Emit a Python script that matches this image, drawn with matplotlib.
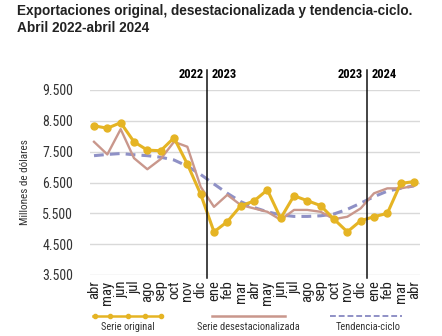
import matplotlib
matplotlib.use('Agg')
import matplotlib.pyplot as plt
from matplotlib.lines import Line2D

plt.rcParams['font.family'] = ['Roboto Condensed', 'DejaVu Sans']

# Monthly exports, April 2022 - April 2024 (millions of dollars)
meses = ['abr', 'may', 'jun', 'jul', 'ago', 'sep', 'oct', 'nov', 'dic',
         'ene', 'feb', 'mar', 'abr', 'may', 'jun', 'jul', 'ago', 'sep', 'oct', 'nov', 'dic',
         'ene', 'feb', 'mar', 'abr']
original = [8340, 8260, 8440, 7820, 7550, 7530, 7950, 7100, 6120,
            4900, 5230, 5740, 5900, 6260, 5340, 6070, 5910, 5750, 5310, 4900, 5260,
            5390, 5500, 6470, 6530]
desestacionalizada = [7820, 7410, 8230, 7290, 6930, 7260, 7820, 7660, 6360,
                      5710, 6100, 5770, 5660, 5550, 5290, 5610, 5610, 5550, 5310, 5390, 5660,
                      6150, 6310, 6310, 6390]
tendencia = [7370, 7410, 7440, 7400, 7370, 7320, 7230, 7030, 6760,
             6450, 6150, 5880, 5690, 5550, 5450, 5400, 5400, 5420, 5480, 5630, 5830,
             6040, 6220, 6310, 6390]
yticks = [3500, 4500, 5500, 6500, 7500, 8500, 9500]
cortes = [(8.5, '2022', '2023'), (20.5, '2023', '2024')]

c_orig = '#E5B424'
c_des = '#C9978C'
c_ten = '#8F91C6'

W, H = 442, 336
fig = plt.figure(figsize=(W / 100, H / 100), dpi=100)
ax = fig.add_axes([90 / W, 1 - 275 / H, 330 / W, 185 / H])

x = list(range(len(meses)))
ax.plot(x, tendencia, color=c_ten, lw=2.2, dashes=(3.2, 2.0), zorder=2)
ax.plot(x, desestacionalizada, color=c_des, lw=1.7, zorder=3)
ax.plot(x, original, color=c_orig, lw=2.2, marker='o', ms=5, zorder=4)

ax.set_xlim(-0.3, 24.45)
ax.set_ylim(3500, 9500)
ax.set_yticks(yticks)
ax.set_yticklabels([f'{v:,}'.replace(',', '.') for v in yticks], fontsize=10, color='#333333')
ax.set_xticks(x)
ax.set_xticklabels(meses, rotation=90, fontsize=10.5, color='#222222')
ax.tick_params(length=0, pad=12)
ax.tick_params(axis='x', pad=4)
ax.grid(axis='y', color='#d9d9d9', lw=1)
ax.set_axisbelow(True)
for s in ax.spines.values():
    s.set_visible(False)
ax.set_ylabel('Millones de dólares', fontsize=8, color='#333333', labelpad=9)

# year change markers
for xc, a, b in cortes:
    ax.plot([xc, xc], [3400, 10150], color='#111111', lw=1.1, clip_on=False, zorder=5)
    ax.text(xc - 0.3, 10000, a, ha='right', va='center', fontsize=9, fontweight='bold')
    ax.text(xc + 0.3, 10000, b, ha='left', va='center', fontsize=9, fontweight='bold')

fig.text(17 / W, 1 - 11 / H, 'Exportaciones original, desestacionalizada y tendencia-ciclo.',
         fontsize=9.8, fontweight='bold', family=['Liberation Sans', 'DejaVu Sans'],
         color='#222222', va='center')
fig.text(17 / W, 1 - 28 / H, 'Abril 2022-abril 2024',
         fontsize=9.8, fontweight='bold', family=['Liberation Sans', 'DejaVu Sans'],
         color='#222222', va='center')

# legend below the chart: sample line above each label
ly = 1 - 316 / H
ty = 1 - 327 / H
fig.add_artist(Line2D([93 / W, 162 / W], [ly, ly], color=c_orig, lw=1.8))
fig.add_artist(Line2D([95 / W, 110 / W, 128 / W, 145 / W, 161 / W], [ly] * 5, color=c_orig,
                      lw=0, marker='o', ms=3))
fig.add_artist(Line2D([212 / W, 285 / W], [ly, ly], color=c_des, lw=1.8))
fig.add_artist(Line2D([330 / W, 402 / W], [ly, ly], color=c_ten, lw=1.4, dashes=(3, 1.5)))
for xc, lab in [(128, 'Serie original'), (248, 'Serie desestacionalizada'), (368, 'Tendencia-ciclo')]:
    fig.text(xc / W, ty, lab, ha='center', va='center', fontsize=7.5, color='#333333')

fig.savefig('out.png', dpi=100)
